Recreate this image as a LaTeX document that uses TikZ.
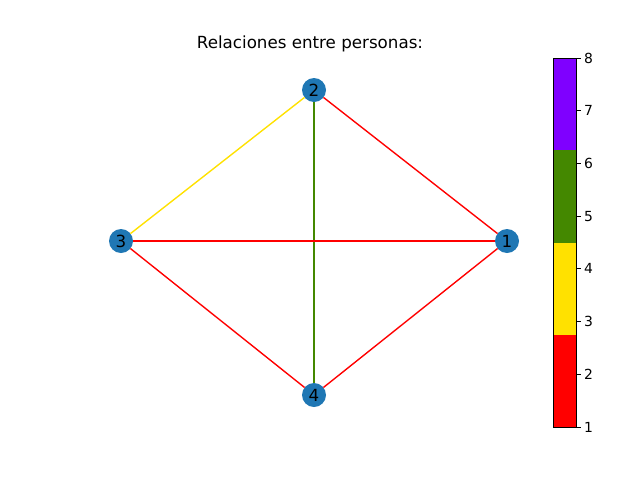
\documentclass[tikz,border=0pt]{standalone}
\usepackage{fontspec}
\setmainfont{DejaVu Sans}
\definecolor{nodeblue}{HTML}{1F77B4}
\definecolor{cred}{RGB}{255,0,0}
\definecolor{cyellow}{RGB}{255,225,0}
\definecolor{cgreen}{RGB}{68,136,0}
\definecolor{cpurple}{RGB}{127,0,255}
\tikzset{
  vert/.style={circle,fill=nodeblue,minimum size=24pt,inner sep=0pt,outer sep=0pt,font=\fontsize{16.7}{18}\selectfont},
  edge/.style={line width=1.39pt},
  ticklab/.style={anchor=west,font=\fontsize{13.9}{15}\selectfont,inner sep=0pt},
}
\begin{document}
\begin{tikzpicture}[x=1pt,y=-1pt]
\useasboundingbox (0,0) rectangle (640,480);
\node[font=\fontsize{16.7}{18}\selectfont] (title) at (310,44) {Relaciones entre personas:};
\node[vert] (n1) at (507,241) {1};
\node[vert] (n2) at (314,90) {2};
\node[vert] (n3) at (121,241) {3};
\node[vert] (n4) at (314,395) {4};
\draw[edge,cred] (n2) -- (n1);
\draw[edge,cyellow] (n2) -- (n3);
\draw[edge,cgreen] (n2) -- (n4);
\draw[edge,cred] (n3) -- (n1);
\draw[edge,cred] (n3) -- (n4);
\draw[edge,cred] (n4) -- (n1);
% colorbar
\fill[cred] (553,427) rectangle (576,334.75);
\fill[cyellow] (553,334.75) rectangle (576,242.5);
\fill[cgreen] (553,242.5) rectangle (576,150.25);
\fill[cpurple] (553,150.25) rectangle (576,58);
\draw[line width=1pt] (553,58) rectangle (576,427);
\foreach \v in {1,...,8} {
  \pgfmathsetmacro{\yy}{427-(\v-1)*369/7}
  \draw[line width=1pt] (576,\yy) -- (581,\yy);
  \node[ticklab] (t\v) at (584,\yy) {\v};
}
\end{tikzpicture}
\end{document}
